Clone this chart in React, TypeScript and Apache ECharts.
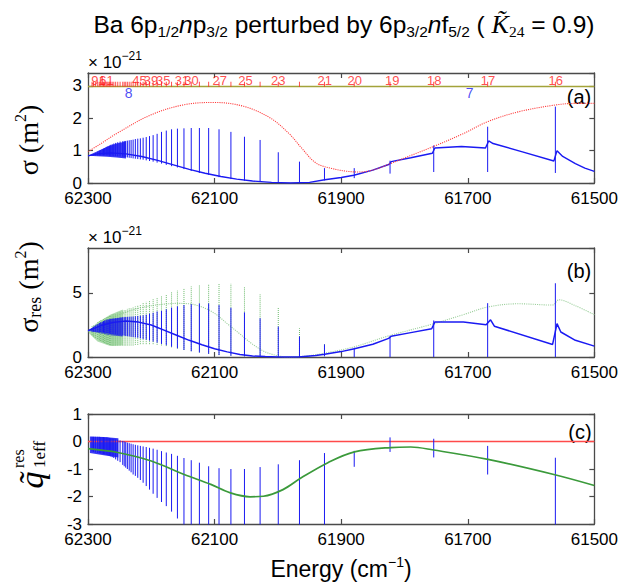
import React, { useEffect, useRef } from "react";
import * as echarts from "echarts";

// ---- resonance positions (Ba 6p1/2 np3/2, n = 16 ... 200), cm^-1 ----
const resN = [16,17,18,19,20,21,22,23,24,25,26,27,28,29,30,31,32,33,34,35,36,37,38,39,40,41,42,43,44,45,46,47,48,49,50,52,54,56,58,60,62,64,66,68,70,73,76,80,85,91,100,120,150,200];
const resE = [61561.6,61668.6,61753.8,61822.8,61879.4,61926.4,61965.9,61999.4,62028.1,62052.8,62074.2,62093.0,62109.4,62124.0,62136.9,62148.4,62158.7,62168.0,62176.3,62183.9,62190.8,62197.1,62202.8,62208.0,62212.9,62217.3,62221.4,62225.2,62228.7,62231.9,62234.9,62237.8,62240.4,62242.8,62245.1,62249.3,62253.0,62256.3,62259.2,62261.8,62264.1,62266.2,62268.2,62269.9,62271.5,62273.6,62275.5,62277.6,62279.9,62282.1,62284.6,62288.4,62291.4,62293.6];

// ---- panel (a): sigma, units 1e-21 m^2 ----
const aHigh = [2.36,1.74,1.16,0.69,0.46,0.46,0.66,0.95,1.33,1.43,1.58,1.66,1.7,1.7,1.7,1.69,1.68,1.66,1.62,1.58,1.52,1.48,1.45,1.42,1.4,1.38,1.37,1.36,1.34,1.33,1.32,1.31,1.3,1.3,1.29,1.28,1.26,1.24,1.22,1.2,1.18,1.16,1.14,1.12,1.1,1.08,1.06,1.04,1.02,1.0,0.97,0.93,0.9,0.88];
const aLow = [0.31,0.34,0.34,0.29,0.15,0.08,0.0,0.01,0.03,0.07,0.12,0.18,0.25,0.31,0.37,0.43,0.48,0.52,0.56,0.6,0.63,0.66,0.68,0.7,0.72,0.73,0.74,0.75,0.76,0.77,0.78,0.79,0.8,0.8,0.81,0.82,0.82,0.83,0.83,0.84,0.84,0.84,0.85,0.85,0.85,0.85,0.85,0.85,0.85,0.85,0.85,0.85,0.85,0.85];
const aBgE = [62300,62285,62265,62240,62215,62190,62165,62140,62115,62090,62065,62040,62010,61980,61950,61926,61900,61880,61850,61824,61821,61790,61756,61752,61710,61672,61667,61660,61615,61564,61559,61550,61530,61515,61500];
const aBgV = [0.84,0.9,0.93,0.9,0.82,0.7,0.56,0.42,0.3,0.2,0.12,0.06,0.02,0.0,0.02,0.1,0.17,0.24,0.4,0.58,0.66,0.78,0.92,1.08,1.13,1.08,1.3,1.22,0.97,0.68,1.0,0.82,0.6,0.46,0.36];
const aBandE = [62299,62285,62270,62255,62240,62240,62255,62270,62285,62299];
const aBandV = [0.86,0.98,1.12,1.22,1.28,0.76,0.79,0.81,0.83,0.84];
const aRedE = [62300,62281,62253,62200,62148,62101,62054,62012,61981,61963,61940,61915,61890,61870,61850,61822,61790,61754,61710,61668,61620,61562,61530,61500];
const aRedV = [0.97,1.2,1.55,2.11,2.42,2.49,2.37,2.01,1.5,1.09,0.62,0.45,0.36,0.34,0.4,0.6,0.85,1.13,1.5,1.9,2.2,2.41,2.46,2.46];
const aRefE = [62300, 61500];
const aRefV = [2.98, 2.98];
const aTickLevel = 3.05;
const labelN = ["16","17","18","19","20","21","23","25","27","30","31","35","39","45","61","91"];
const labelE = [61561,61668,61753,61819.4,61878.4,61926,61999.4,62051,62091.8,62136.4,62151.7,62181,62200.3,62218.6,62270.7,62283.6];
const labelLevel = 3.18;
const pertN = ["8", "7"];
const pertE = [62235.8, 61697];
const pertLevel = 2.78;

// ---- panel (b): sigma_res ----
const bHigh = [5.75,4.2,2.85,1.62,0.72,0.98,1.6,2.37,3.02,3.48,3.84,4.05,4.18,4.18,4.12,4.05,3.95,3.85,3.72,3.6,3.55,3.45,3.38,3.3,3.25,3.22,3.2,3.18,3.16,3.15,3.14,3.13,3.12,3.11,3.1,3.08,3.05,3.03,3.01,3.0,2.97,2.95,2.93,2.91,2.9,2.85,2.8,2.75,2.7,2.65,2.55,2.45,2.35,2.25];
const bLow = [0,0,0,0,0,0.05,0,0,0.02,0.05,0.1,0.15,0.25,0.35,0.45,0.55,0.68,0.8,0.92,1.02,1.12,1.2,1.28,1.35,1.4,1.45,1.5,1.52,1.55,1.57,1.6,1.62,1.64,1.66,1.68,1.7,1.72,1.74,1.76,1.78,1.8,1.82,1.84,1.85,1.86,1.88,1.9,1.92,1.93,1.94,1.95,1.96,1.97,1.98];
const gHigh = [null,null,null,null,null,1.0,2.24,3.87,4.9,5.47,5.73,5.73,5.68,5.6,5.5,5.35,5.2,5.05,4.9,4.75,4.6,4.5,4.4,4.3,4.2,4.1,4.0,3.95,3.9,3.85,3.8,3.75,3.7,3.65,3.6,3.5,3.45,3.4,3.35,3.3,3.25,3.2,3.15,3.1,3.05,3.0,2.95,2.9,2.85,2.8,2.7,2.6,2.5,2.4];
const gLow = [null,null,null,null,null,0.3,0,0,0.02,0.05,0.1,0.15,0.25,0.35,0.45,0.55,0.65,0.75,0.85,0.9,0.95,1.0,1.0,1.0,1.0,1.0,0.95,0.95,0.9,0.9,0.9,0.9,0.9,0.9,0.9,0.9,0.9,0.9,0.9,0.9,0.95,0.95,1.0,1.0,1.05,1.1,1.15,1.2,1.25,1.3,1.4,1.5,1.6,1.7];
const bBgE = [62300,62280,62260,62240,62220,62200,62180,62160,62140,62120,62100,62080,62060,62040,62020,62000,61968,61940,61926,61900,61879,61850,61825,61821,61790,61757,61752,61707,61671,61664,61658,61566,61559,61553,61530,61500];
const bBgV = [2.05,2.45,2.7,2.8,2.72,2.5,2.1,1.7,1.3,0.95,0.65,0.4,0.2,0.08,0.03,0.0,0.0,0.12,0.22,0.42,0.64,1.0,1.45,1.62,1.9,2.2,2.73,2.73,2.52,2.9,2.4,0.98,2.6,1.95,1.3,0.85];
const gBgE = [62300,62280,62260,62240,62220,62200,62180,62160,62140,62120,62100,62080,62060,62040,62020,62000,61985,61960,61926,61879,61825,61757,61707,61668,61620,61566,61556,61530,61500];
const gBgV = [2.0,2.6,3.1,3.5,3.8,4.0,4.12,4.18,4.15,3.9,3.4,2.6,1.8,1.0,0.4,0.1,0.0,0.05,0.3,0.8,1.65,2.55,3.3,3.9,4.15,4.05,4.46,4.0,3.3];
const bBandE = [62299,62285,62265,62245,62245,62265,62285,62299];
const bBandV = [2.1,2.55,2.95,3.1,1.6,1.7,1.9,2.05];
const gBandE = [62299,62285,62265,62245,62245,62265,62285,62299];
const gBandV = [2.0,2.7,3.3,3.7,0.9,0.85,1.2,1.9];

// ---- panel (c): q_1eff^res ----
const cHigh = [-0.59,-0.16,0.1,0.15,-0.34,-0.42,-0.68,-0.83,-0.93,-1.0,-1.0,-0.97,-0.9,-0.77,-0.68,-0.6,-0.52,-0.45,-0.4,-0.35,-0.3,-0.26,-0.23,-0.2,-0.18,-0.16,-0.14,-0.12,-0.1,-0.08,-0.06,-0.04,-0.02,0.0,0.02,0.04,0.06,0.08,0.1,0.11,0.12,0.13,0.14,0.15,0.15,0.15,0.16,0.16,0.16,0.17,0.17,0.17,0.17,0.17];
const cLow = [-3.2,-1.2,-0.58,-0.38,-0.92,-3.2,-3.2,-3.2,-3.2,-3.2,-3.2,-3.2,-3.2,-3.2,-3.2,-3.2,-2.8,-2.55,-2.35,-2.2,-2.05,-1.9,-1.75,-1.62,-1.5,-1.4,-1.32,-1.25,-1.2,-1.12,-1.06,-1.0,-0.95,-0.9,-0.85,-0.75,-0.7,-0.65,-0.6,-0.57,-0.54,-0.52,-0.5,-0.49,-0.48,-0.47,-0.46,-0.45,-0.44,-0.43,-0.42,-0.4,-0.38,-0.36];
const cGrE = [62300,62253,62200,62148,62106,62075,62044,62023,61992,61963,61921,61879,61822,61790,61754,61668,61564,61500];
const cGrV = [-0.26,-0.4,-0.71,-1.2,-1.56,-1.87,-2.01,-1.99,-1.75,-1.32,-0.77,-0.38,-0.22,-0.2,-0.31,-0.65,-1.2,-1.6];
const cBandE = [62297,62275,62252,62252,62275,62297];
const cBandV = [0.18,0.16,0.12,-0.58,-0.5,-0.42];
const cRefE = [62300, 61500];
const cRefV = [0, 0];

// ---- axes ----
const xTicks = { min: 61500, max: 62300, interval: 200 };

const SANS = "Arial, 'Liberation Sans', Helvetica, sans-serif";
const SERIF = "'Times New Roman', 'Liberation Serif', 'DejaVu Serif', serif";
const AXC = "#4a4a4a";
const BLUE = "#1a1af2";

const pairs = (xs: number[], ys: number[]) => xs.map((x, i) => [x, ys[i]]);
const spikes = (lo: (number | null)[], hi: (number | null)[]) => {
  const out: any[] = [];
  resE.forEach((e, i) => {
    if (lo[i] == null || hi[i] == null) return;
    out.push([e, lo[i]], [e, hi[i]], [e, "-"]);
  });
  return out;
};

function xAxisDef(gi: number, bottom: boolean) {
  return {
    type: "value", gridIndex: gi, ...xTicks, inverse: true,
    position: bottom ? "bottom" : "top",
    axisLine: { show: true, onZero: false, lineStyle: { color: AXC, width: 1.3 } },
    axisTick: { show: true, inside: true, length: 5, lineStyle: { color: AXC, width: 1.2 } },
    axisLabel: { show: bottom, margin: 7, color: "#000", fontSize: 17, fontFamily: SANS, formatter: (v: number) => String(v) },
    splitLine: { show: false },
  };
}
function yAxisDef(gi: number, min: number, max: number, interval: number, left: boolean, showMax: boolean) {
  return {
    type: "value", gridIndex: gi, min, max, interval,
    position: left ? "left" : "right",
    axisLine: { show: true, onZero: false, lineStyle: { color: AXC, width: 1.3 } },
    axisTick: { show: true, inside: true, length: 5, lineStyle: { color: AXC, width: 1.2 } },
    axisLabel: { show: left, margin: 6, color: "#000", fontSize: 17, fontFamily: SANS, showMaxLabel: showMax },
    splitLine: { show: false },
  };
}

const lineS = (xi: number, data: any[], color: string, width: number, type: string = "solid", z = 2, smooth: number | boolean = false) => ({
  type: "line", xAxisIndex: xi, yAxisIndex: xi, data, showSymbol: false, symbol: "none",
  connectNulls: false, silent: true, z, smooth,
  lineStyle: { color, width, type },
});

const band = (xi: number, es: number[], vs: number[], color: string, opacity: number) => ({
  type: "custom", xAxisIndex: xi, yAxisIndex: xi, silent: true, clip: true, z: 1,
  data: pairs(es, vs),
  renderItem: (params: any, api: any) => {
    if (params.dataIndex !== 0) return { type: "group", children: [] };
    const pts = es.map((e, i) => api.coord([e, vs[i]]));
    return { type: "polygon", shape: { points: pts }, style: { fill: color, opacity } };
  },
});

const option: any = {
  animation: false,
  grid: [
    { left: 88, top: 73, width: 511, height: 110 },
    { left: 88, top: 248, width: 511, height: 109 },
    { left: 88, top: 414, width: 511, height: 110 },
  ],
  xAxis: [xAxisDef(0, true), xAxisDef(1, true), xAxisDef(2, true), xAxisDef(0, false), xAxisDef(1, false), xAxisDef(2, false)],
  yAxis: [
    yAxisDef(0, 0, 3.4, 1, true, false),
    yAxisDef(1, 0, 8.5, 5, true, false),
    yAxisDef(2, -3, 1, 1, true, true),
    yAxisDef(0, 0, 3.4, 1, false, false),
    yAxisDef(1, 0, 8.5, 5, false, false),
    yAxisDef(2, -3, 1, 1, false, true),
  ],
  series: [
    // panel a
    lineS(0, pairs(aRefE, aRefV), "#a3a33a", 1.5),
    {
      type: "scatter", xAxisIndex: 0, yAxisIndex: 0, silent: true, symbol: "rect", symbolSize: [1, 5],
      itemStyle: { color: "#ff2020" }, data: resE.map((e) => [e, aTickLevel]),
    },
    {
      type: "scatter", xAxisIndex: 0, yAxisIndex: 0, silent: true, symbolSize: 0,
      data: labelE.map((e, i) => ({ value: [e, labelLevel], name: labelN[i] })),
      label: { show: true, position: "inside", formatter: "{b}", color: "#ff2020", fontSize: 13, fontFamily: SANS },
    },
    {
      type: "scatter", xAxisIndex: 0, yAxisIndex: 0, silent: true, symbolSize: 0,
      data: pertE.map((e, i) => ({ value: [e, pertLevel], name: pertN[i] })),
      label: { show: true, position: "inside", formatter: "{b}", color: BLUE, fontSize: 14, fontFamily: SANS },
    },
    band(0, aBandE, aBandV, BLUE, 0.85),
    lineS(0, spikes(aLow, aHigh), BLUE, 1),
    lineS(0, pairs(aBgE, aBgV), BLUE, 1.4),
    lineS(0, pairs(aRedE, aRedV), "#ff3b3b", 1.1, "dotted", 3, 0.35),
    // panel b
    band(1, gBandE, gBandV, "#6fbf6f", 0.55),
    band(1, bBandE, bBandV, BLUE, 0.8),
    lineS(1, pairs(gBgE, gBgV), "#9ccf9c", 1.1, "dotted", 2, 0.35),
    lineS(1, spikes(gLow, gHigh), "#6cba6c", 1, "dotted"),
    lineS(1, spikes(bLow, bHigh), BLUE, 1),
    lineS(1, pairs(bBgE, bBgV), BLUE, 1.5),
    // panel c
    lineS(2, pairs(cRefE, cRefV), "#ff4a4a", 1.4),
    band(2, cBandE, cBandV, BLUE, 0.85),
    lineS(2, spikes(cLow, cHigh), BLUE, 1),
    lineS(2, pairs(cGrE, cGrV), "#3b9a3b", 1.7, "solid", 3, 0.35),
  ],
  graphic: [
    {
      type: "text", x: 344, y: 24,
      style: {
        text: "Ba 6p{s|1/2}{i|n}p{s|3/2} perturbed by 6p{s|3/2}{i|n}f{s|5/2} ( {k|K\u0303}{ks|24} = 0.9)",
        align: "center", verticalAlign: "middle", fontSize: 24.5, fontFamily: SANS, fill: "#000", lineHeight: 30,
        rich: {
          s: { fontSize: 15.5, fontFamily: SANS, lineHeight: 15, verticalAlign: "bottom" },
          i: { fontSize: 24.5, fontFamily: SANS, fontStyle: "italic", lineHeight: 30 },
          k: { fontSize: 26, fontFamily: SERIF, fontStyle: "italic", lineHeight: 30 },
          ks: { fontSize: 15.5, fontFamily: SERIF, lineHeight: 15, verticalAlign: "bottom" },
        },
      },
    },
    {
      type: "text", x: 88, y: 62,
      style: {
        text: "\u00d7 10{p|\u221221}", align: "left", verticalAlign: "middle", fontSize: 17, fontFamily: SANS, fill: "#000", lineHeight: 24,
        rich: { p: { fontSize: 12, fontFamily: SANS, lineHeight: 12, verticalAlign: "top" } },
      },
    },
    {
      type: "text", x: 88, y: 237,
      style: {
        text: "\u00d7 10{p|\u221221}", align: "left", verticalAlign: "middle", fontSize: 17, fontFamily: SANS, fill: "#000", lineHeight: 24,
        rich: { p: { fontSize: 12, fontFamily: SANS, lineHeight: 12, verticalAlign: "top" } },
      },
    },
    {
      type: "text", x: 28, y: 140, rotation: Math.PI / 2,
      style: {
        text: "\u03c3 (m{p|2})", align: "center", verticalAlign: "middle", fontSize: 28, fontFamily: SERIF, fill: "#000", lineHeight: 32,
        rich: { p: { fontSize: 16, fontFamily: SERIF, lineHeight: 16, verticalAlign: "top" } },
      },
    },
    {
      type: "text", x: 28, y: 287, rotation: Math.PI / 2,
      style: {
        text: "\u03c3{b|res} (m{p|2})", align: "center", verticalAlign: "middle", fontSize: 28, fontFamily: SERIF, fill: "#000", lineHeight: 32,
        rich: {
          p: { fontSize: 16, fontFamily: SERIF, lineHeight: 16, verticalAlign: "top" },
          b: { fontSize: 18, fontFamily: SERIF, lineHeight: 16, verticalAlign: "bottom" },
        },
      },
    },
    {
      type: "group", x: 29, y: 468, rotation: Math.PI / 2,
      children: [
        { type: "text", x: -12, y: 2, style: { text: "q\u0303", align: "center", verticalAlign: "middle", fontSize: 34, fontStyle: "italic", fontFamily: SERIF, fill: "#000" } },
        { type: "text", x: 0, y: -11, style: { text: "res", align: "left", verticalAlign: "middle", fontSize: 16, fontFamily: SERIF, fill: "#000" } },
        { type: "text", x: 0, y: 10, style: { text: "1eff", align: "left", verticalAlign: "middle", fontSize: 17, fontFamily: SERIF, fill: "#000" } },
      ],
    },
    { type: "text", x: 579, y: 97, style: { text: "(a)", align: "center", verticalAlign: "middle", fontSize: 20, fontFamily: SANS, fill: "#000" } },
    { type: "text", x: 579, y: 271, style: { text: "(b)", align: "center", verticalAlign: "middle", fontSize: 20, fontFamily: SANS, fill: "#000" } },
    { type: "text", x: 580, y: 432, style: { text: "(c)", align: "center", verticalAlign: "middle", fontSize: 20, fontFamily: SANS, fill: "#000" } },
    {
      type: "text", x: 341, y: 569,
      style: {
        text: "Energy (cm{p|\u22121})", align: "center", verticalAlign: "middle", fontSize: 23, fontFamily: SANS, fill: "#000", lineHeight: 28,
        rich: { p: { fontSize: 14, fontFamily: SANS, lineHeight: 14, verticalAlign: "top" } },
      },
    },
  ],
};

export default function App() {
  const ref = useRef<HTMLDivElement>(null);
  useEffect(() => {
    if (!ref.current) return;
    const chart = echarts.init(ref.current, null, { renderer: "svg" });
    chart.setOption(option);
    return () => chart.dispose();
  }, []);
  return <div ref={ref} style={{ position: "fixed", left: 0, top: 0, width: 621, height: 585, background: "#fff" }} />;
}
